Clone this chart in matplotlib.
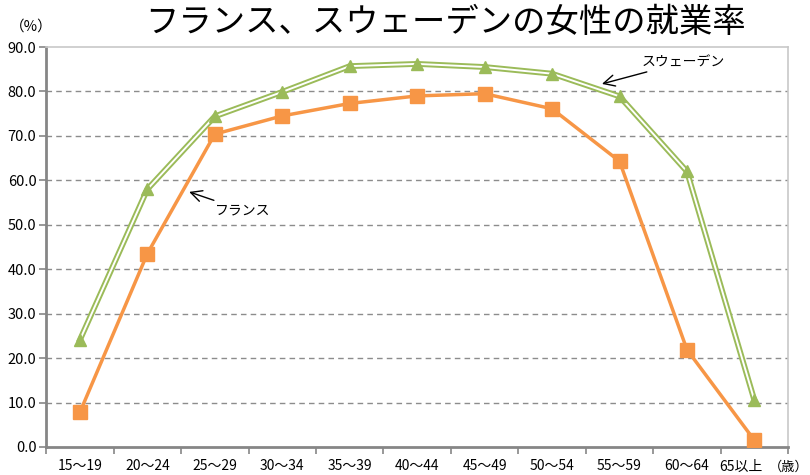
import matplotlib
matplotlib.use("Agg")
import matplotlib.pyplot as plt
import matplotlib.transforms as mtransforms
import numpy as np

plt.rcParams["font.family"] = ["Noto Sans CJK JP", "DejaVu Sans"]

age_groups = ["15～19", "20～24", "25～29", "30～34", "35～39", "40～44",
              "45～49", "50～54", "55～59", "60～64", "65以上"]
france = [7.8, 43.5, 70.4, 74.5, 77.3, 79.0, 79.5, 76.1, 64.3, 21.9, 1.5]
sweden = [24.1, 58.0, 74.4, 79.9, 85.7, 86.2, 85.5, 84.0, 78.9, 62.0, 10.5]

ORANGE = "#F79646"
GREEN = "#9BBB59"

fig = plt.figure(figsize=(8.1, 4.75), dpi=100)
ax = fig.add_axes([0.057, 0.059, 0.916, 0.842])

x = np.arange(len(age_groups))

# sweden: double (compound) line
ax.plot(x, sweden, color=GREEN, linewidth=4.2, solid_joinstyle="miter", zorder=3)
ax.plot(x, sweden, color="white", linewidth=1.4, zorder=4)
ax.plot(x, sweden, linestyle="none", marker="^", markersize=9,
        color=GREEN, zorder=5)

ax.plot(x, france, color=ORANGE, linewidth=2.5, marker="s", markersize=10,
        markerfacecolor=ORANGE, markeredgecolor=ORANGE, zorder=6)

ax.set_xlim(-0.5, len(age_groups) - 0.5)
ax.set_ylim(0, 90)
ax.set_yticks(np.arange(0, 91, 10))
ax.set_yticklabels([f"{v:.1f}" for v in np.arange(0, 91, 10)], fontsize=10.5)
ax.set_xticks(x)
ax.set_xticklabels(age_groups, fontsize=10)
ax.set_xticks(np.arange(-0.5, len(age_groups)), minor=True)
ax.tick_params(axis="x", which="major", length=0, pad=9)
ax.tick_params(axis="x", which="minor", length=5, color="#868686", width=1.2)
ax.tick_params(axis="y", length=5, color="#868686", width=1.2, pad=2)

# nudge the last category label left so the unit fits beside it
last = ax.get_xticklabels()[-1]
last.set_transform(last.get_transform() +
                   mtransforms.ScaledTranslation(-10 / 72, 0, fig.dpi_scale_trans))

for v in range(10, 90, 10):
    ax.axhline(v, color="#8c8c8c", linestyle=(0, (4, 3)), linewidth=1.0, zorder=1)

for side in ["left", "bottom"]:
    ax.spines[side].set_color("#868686")
    ax.spines[side].set_linewidth(2.0)
for side in ["top", "right"]:
    ax.spines[side].set_color("#c8c8c8")
    ax.spines[side].set_linewidth(1.2)

ax.annotate("スウェーデン", xy=(7.74, 81.7), xytext=(8.33, 86.6),
            fontsize=10, va="center", ha="left",
            arrowprops=dict(arrowstyle="->", color="black", lw=1.0,
                            shrinkA=0, shrinkB=0, mutation_scale=20))
ax.annotate("フランス", xy=(1.62, 57.4), xytext=(2.0, 53.3),
            fontsize=10, va="center", ha="left",
            arrowprops=dict(arrowstyle="->", color="black", lw=1.0,
                            shrinkA=0, shrinkB=0, mutation_scale=20))

fig.text(0.55, 0.952, "フランス、スウェーデンの女性の就業率", fontsize=24,
         ha="center", va="center")
fig.text(0.012, 0.943, "（%）", fontsize=10.5, ha="left", va="center")
fig.text(0.998, 0.016, "（歳）", fontsize=9.5, ha="right", va="center")

fig.savefig("out.png", dpi=100)
plt.close(fig)
